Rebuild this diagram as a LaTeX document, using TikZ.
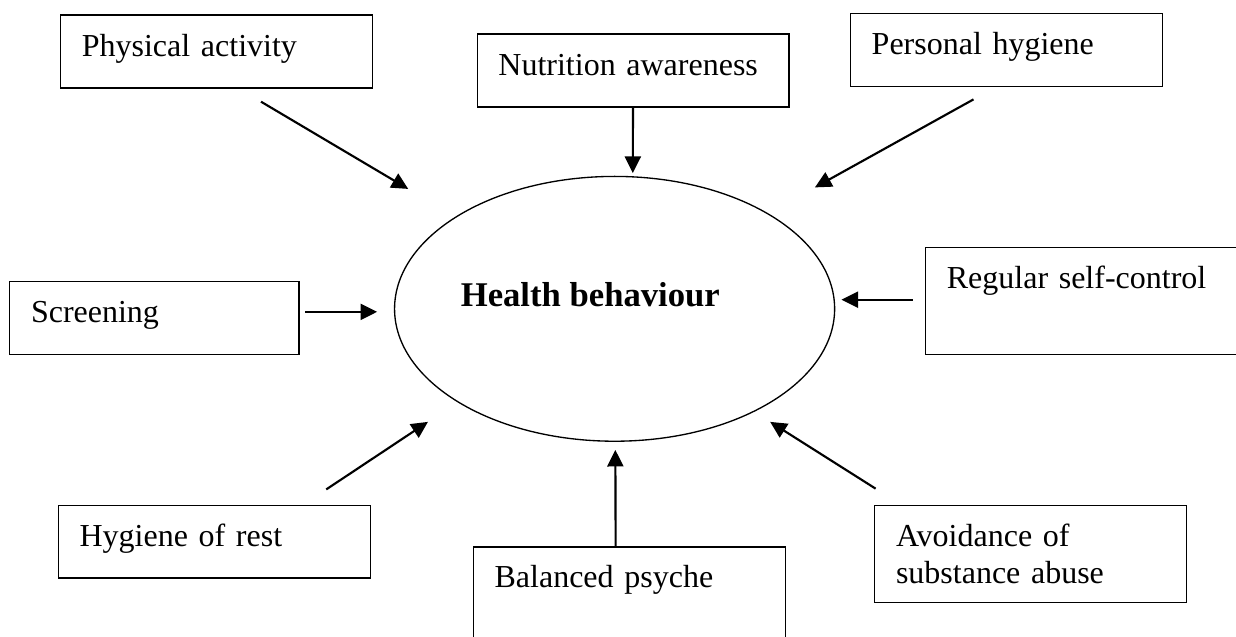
\documentclass[tikz,border=0pt]{standalone}
\usepackage{fontspec}
\setmainfont{Liberation Serif}
\usepackage{tikz}
\usetikzlibrary{arrows.meta,shapes.geometric}

\begin{document}
\begin{tikzpicture}[
        factor/.style={draw, line width=0.5pt, rectangle, anchor=north west, align=left,
            inner xsep=0.28cm, inner ysep=0pt, text width=3.55cm,
            text height=0.54cm, text depth=0.42cm, font=\fontsize{12}{13.8}\selectfont},
        link/.style={-{Triangle[length=6.2pt, width=6pt]}, thick}
    ]
        \useasboundingbox (0,0) rectangle (16.29,8.39);
        \clip (0,0) rectangle (16.29,8.39);

        % Health behaviour
        \node[draw, line width=0.5pt, ellipse, minimum width=5.8cm, minimum height=3.49cm, inner sep=0pt,
            label={[xshift=-0.32cm, yshift=0.18cm, font=\fontsize{13}{15}\selectfont\bfseries]center:Health behaviour}]
            (health) at (8.10,4.32) {};

        % Top row
        \node[factor] (physical) at (0.79,8.20) {Physical activity};
        \node[factor] (nutrition) at (6.28,7.95) {Nutrition awareness};
        \node[factor] (personal) at (11.20,8.22) {Personal hygiene};

        % Middle row
        \node[factor, text width=3.25cm] (screening) at (0.12,4.69) {Screening};
        \node[factor, text width=3.8cm, text depth=0.87cm] (selfcontrol) at (12.19,5.14) {Regular self-control};

        % Bottom row
        \node[factor] (rest) at (0.76,1.74) {Hygiene of rest};
        \node[factor, text depth=0.8cm] (psyche) at (6.23,1.19) {Balanced psyche};
        \node[factor, text depth=0.74cm] (substance) at (11.52,1.74) {Avoidance of\\substance abuse};

        % Arrow ends
        \coordinate (pa-tail) at (3.44,7.05);
        \coordinate (pa-tip) at (5.38,5.90);
        \coordinate (na-tip) at (8.34,6.11);
        \coordinate (ph-tail) at (12.83,7.08);
        \coordinate (ph-tip) at (10.74,5.92);
        \coordinate (sc-tail) at (4.02,4.28);
        \coordinate (sc-tip) at (4.97,4.28);
        \coordinate (rs-tail) at (12.03,4.44);
        \coordinate (rs-tip) at (11.09,4.44);
        \coordinate (hr-tail) at (4.30,1.94);
        \coordinate (hr-tip) at (5.64,2.83);
        \coordinate (bp-tip) at (8.11,2.46);
        \coordinate (av-tail) at (11.54,1.95);
        \coordinate (av-tip) at (10.15,2.83);

        % Arrows
        \draw[link] (pa-tail) -- (pa-tip);
        \draw[link] (nutrition) -- (na-tip);
        \draw[link] (ph-tail) -- (ph-tip);
        \draw[link] (sc-tail) -- (sc-tip);
        \draw[link] (rs-tail) -- (rs-tip);
        \draw[link] (hr-tail) -- (hr-tip);
        \draw[link] ([xshift=-0.18cm]psyche.north) -- (bp-tip);
        \draw[link] (av-tail) -- (av-tip);
    \end{tikzpicture}
\end{document}
